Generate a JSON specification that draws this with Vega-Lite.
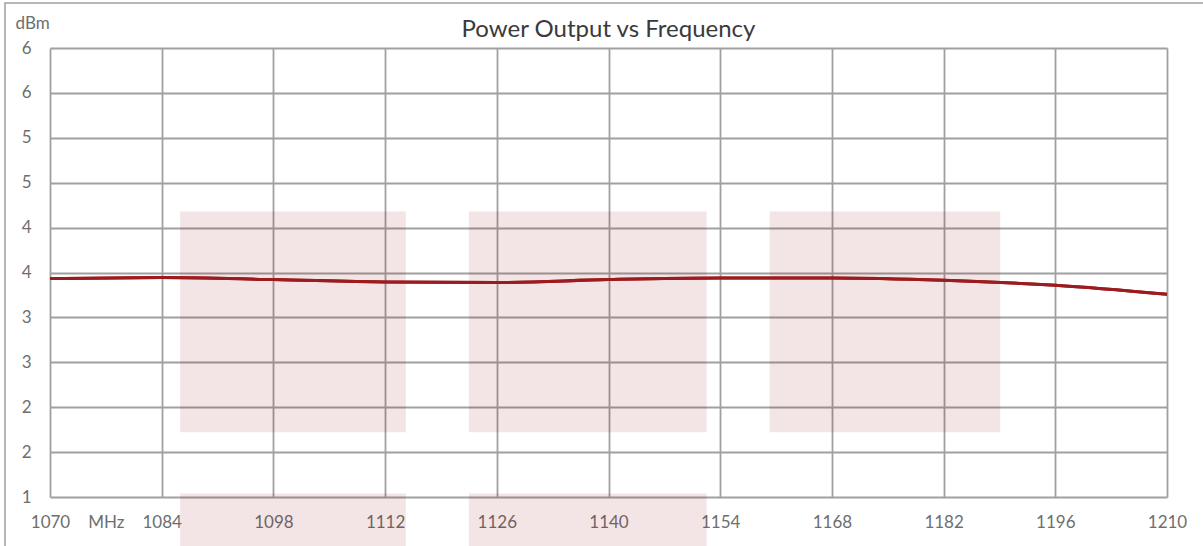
{
  "$schema": "https://vega.github.io/schema/vega-lite/v6.json",
  "width": 1117,
  "height": 449,
  "autosize": {"type": "none"},
  "padding": {"left": 50, "top": 48, "right": 36, "bottom": 49},
  "background": "white",
  "title": {
    "text": "Power Output vs Frequency",
    "font": "Lato",
    "fontSize": 24,
    "fontWeight": "normal",
    "color": "#3a3a3a",
    "anchor": "middle",
    "frame": "group",
    "baseline": "alphabetic",
    "offset": -59
  },
  "config": {
    "view": {"stroke": null},
    "axis": {
      "labelFont": "Lato",
      "titleFont": "Lato",
      "labelColor": "#6e6e6e",
      "titleColor": "#6e6e6e",
      "gridColor": "#a0a0a0",
      "gridWidth": 1.8,
      "gridOpacity": 1,
      "domain": false,
      "ticks": false,
      "tickSize": 0,
      "labelFlush": false
    }
  },
  "datasets": {
    "frame": [
      {"freq": 1064.36, "freq2": 1216, "dbm": 6.5, "dbm2": 0}
    ],
    "bands": [
      {"freq": 1086.3, "freq2": 1114.6, "dbm": 1.72, "dbm2": 4.18},
      {"freq": 1122.5, "freq2": 1152.3, "dbm": 1.72, "dbm2": 4.18},
      {"freq": 1160.2, "freq2": 1189.1, "dbm": 1.72, "dbm2": 4.18},
      {"freq": 1086.3, "freq2": 1114.6, "dbm": 0.3, "dbm2": 1.04},
      {"freq": 1122.5, "freq2": 1152.3, "dbm": 0.3, "dbm2": 1.04}
    ],
    "power": [
      {"freq": 1070, "dbm": 3.432},
      {"freq": 1084, "dbm": 3.443},
      {"freq": 1098, "dbm": 3.421},
      {"freq": 1112, "dbm": 3.394},
      {"freq": 1126, "dbm": 3.388},
      {"freq": 1140, "dbm": 3.421},
      {"freq": 1154, "dbm": 3.439},
      {"freq": 1168, "dbm": 3.439},
      {"freq": 1182, "dbm": 3.413},
      {"freq": 1196, "dbm": 3.357},
      {"freq": 1210, "dbm": 3.257}
    ]
  },
  "layer": [
    {
      "data": {"name": "power"},
      "mark": {"type": "line", "color": "#9c1b1f", "strokeWidth": 3, "interpolate": "monotone"},
      "encoding": {
        "x": {
          "field": "freq",
          "type": "quantitative",
          "scale": {"domain": [1070, 1210], "nice": false, "zero": false},
          "axis": {
            "title": null,
            "values": [1070, 1077, 1084, 1098, 1112, 1126, 1140, 1154, 1168, 1182, 1196, 1210],
            "format": "d",
            "labelExpr": "datum.value == 1077 ? 'MHz' : datum.label",
            "labelFontSize": 17,
            "labelPadding": 17,
            "labelBaseline": "top",
            "labelFlush": false,
            "labelOverlap": false,
            "gridOpacity": {"condition": {"test": "datum.value == 1077", "value": 0}, "value": 1}
          }
        },
        "y": {
          "field": "dbm",
          "type": "quantitative",
          "scale": {"domain": [1, 6], "nice": false, "zero": false},
          "axis": {
            "title": "dBm",
            "titleAngle": 0,
            "titleAlign": "left",
            "titleBaseline": "alphabetic",
            "titleX": -35,
            "titleY": -20,
            "titleFontSize": 17,
            "titleFontWeight": "normal",
            "values": [1, 1.5, 2, 2.5, 3, 3.5, 4, 4.5, 5, 5.5, 6],
            "format": ".0f",
            "labelFontSize": 17,
            "labelPadding": 19,
            "labelAlign": "right",
            "labelBaseline": "middle",
            "labelOverlap": false
          }
        }
      }
    },
    {
      "data": {"name": "frame"},
      "mark": {"type": "rect", "fill": "transparent", "stroke": "#a0a0a0", "strokeWidth": 1.5},
      "encoding": {
        "x": {"field": "freq", "type": "quantitative"},
        "x2": {"field": "freq2"},
        "y": {"field": "dbm", "type": "quantitative"},
        "y2": {"field": "dbm2"}
      }
    },
    {
      "data": {"name": "bands"},
      "mark": {"type": "rect", "fill": "#8b0000", "opacity": 0.1},
      "encoding": {
        "x": {"field": "freq", "type": "quantitative"},
        "x2": {"field": "freq2"},
        "y": {"field": "dbm", "type": "quantitative"},
        "y2": {"field": "dbm2"}
      }
    },
    {
      "data": {"name": "power"},
      "mark": {"type": "line", "color": "#9c1b1f", "strokeWidth": 3, "interpolate": "monotone"},
      "encoding": {
        "x": {"field": "freq", "type": "quantitative"},
        "y": {"field": "dbm", "type": "quantitative"}
      }
    }
  ]
}
